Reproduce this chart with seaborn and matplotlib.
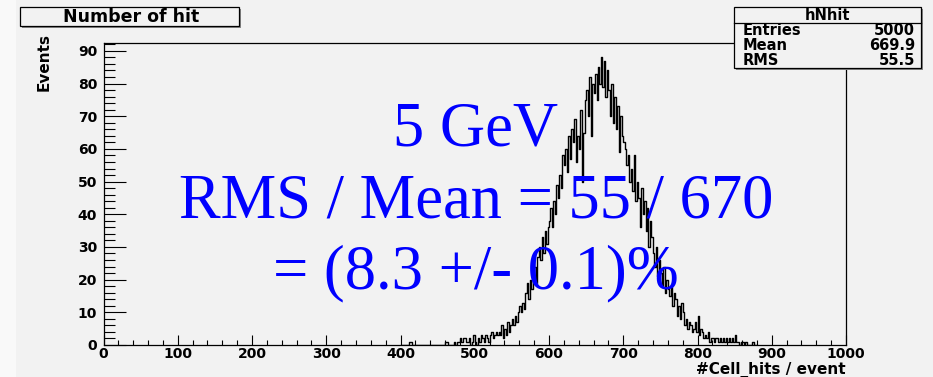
import numpy as np
import pandas as pd
import matplotlib
matplotlib.use("Agg")
import matplotlib.pyplot as plt
from matplotlib.patches import Rectangle
from matplotlib.ticker import MultipleLocator
import seaborn as sns

# ---------------- data ----------------
hist_name = "hNhit"
title_text = "Number of hit"
x_label = "#Cell_hits / event"
y_label = "Events"
bin_start = 400
bin_width = 2
counts = [
    0, 0, 0, 0, 0,        # 400-410
    0, 1, 1, 0, 0,        # 410-420
    0, 0, 0, 0, 0,        # 420-430
    0, 0, 0, 0, 0,        # 430-440
    0, 0, 0, 0, 0,        # 440-450
    0, 0, 0, 0, 0,        # 450-460
    1, 1, 0, 0, 0,        # 460-470
    0, 1, 0, 1, 1,        # 470-480
    2, 1, 2, 2, 1,        # 480-490
    1, 2, 0, 1, 3,        # 490-500
    1, 0, 2, 1, 3,        # 500-510
    2, 1, 3, 2, 1,        # 510-520
    3, 4, 2, 3, 4,        # 520-530
    3, 4, 3, 6, 2,        # 530-540
    5, 3, 7, 4, 6,        # 540-550
    8, 6, 9, 7, 10,       # 550-560
    12, 10, 13, 11, 16,   # 560-570
    19, 14, 20, 17, 22,   # 570-580
    24, 19, 27, 30, 26,   # 580-590
    33, 28, 35, 31, 36,   # 590-600
    38, 42, 36, 44, 40,   # 600-610
    49, 45, 52, 48, 58,   # 610-620
    55, 60, 53, 64, 57,   # 620-630
    66, 62, 69, 56, 64,   # 630-640
    60, 72, 50, 65, 75,   # 640-650
    78, 70, 82, 64, 80,   # 650-660
    77, 83, 75, 85, 80,   # 660-670
    88, 79, 87, 76, 84,   # 670-680
    78, 70, 80, 68, 76,   # 680-690
    66, 73, 59, 70, 64,   # 690-700
    62, 60, 55, 58, 50,   # 700-710
    54, 47, 58, 44, 50,   # 710-720
    45, 36, 48, 40, 44,   # 720-730
    35, 42, 30, 38, 33,   # 730-740
    28, 24, 30, 21, 26,   # 740-750
    22, 18, 24, 16, 20,   # 750-760
    17, 15, 18, 12, 16,   # 760-770
    14, 9, 12, 8, 13,     # 770-780
    10, 6, 8, 5, 7,       # 780-790
    6, 4, 5, 7, 4,        # 790-800
    9, 3, 5, 4, 2,        # 800-810
    3, 2, 4, 1, 2,        # 810-820
    2, 1, 2, 2, 1,        # 820-830
    2, 1, 2, 1, 2,        # 830-840
    1, 2, 1, 2, 1,        # 840-850
    3, 1, 1, 0, 1,        # 850-860
    1, 0, 1, 0, 0,        # 860-870
    0, 0, 1, 0, 0,        # 870-880
]
stat_labels = ["Entries", "Mean", "RMS"]
stat_values = ["5000", "669.9", "55.5"]
note_lines = ["5 GeV", "RMS / Mean = 55 / 670", "= (8.3 +/- 0.1)%"]

# ---------------- figure ----------------
W, H = 933, 377
DPI = 100
BG = "#f2f2f2"
plt.rcParams["font.family"] = ["DejaVu Sans"]
plt.rcParams["font.weight"] = "bold"

fig = plt.figure(figsize=(W / DPI, H / DPI), dpi=DPI, facecolor=BG)


def fx(px):
    return px / W


def fy(py):
    return 1 - py / H


# lighter strip at the far left of the canvas
fig.patches.append(Rectangle((0, 0), fx(16), 1, transform=fig.transFigure,
                             facecolor="#f9f9f9", edgecolor="none", zorder=0))

ax_l, ax_r, ax_t, ax_b = 103.5, 846, 43, 345
ax = fig.add_axes([fx(ax_l), fy(ax_b), fx(ax_r - ax_l), (ax_b - ax_t) / H])
ax.set_facecolor(BG)

n = len(counts)
centers = bin_start + bin_width * (np.arange(n) + 0.5)
df = pd.DataFrame({"x": centers.astype(float), "w": np.asarray(counts, dtype=float)})
sns.histplot(data=df, x="x", weights="w", binwidth=bin_width,
             binrange=(bin_start, bin_start + bin_width * n), element="step",
             fill=False, color="black", linewidth=1.0, ax=ax)

ax.set_xlim(0, 1000)
ax.set_ylim(0, 92.4)
ax.set_xlabel("")
ax.set_ylabel("")
ax.xaxis.set_major_locator(MultipleLocator(100))
ax.xaxis.set_minor_locator(MultipleLocator(20))
ax.yaxis.set_major_locator(MultipleLocator(10))
ax.yaxis.set_minor_locator(MultipleLocator(2))
ax.tick_params(axis="both", which="both", direction="in", color="black",
               width=0.8, labelsize=10)
ax.tick_params(axis="x", which="major", length=7, pad=1.5)
ax.tick_params(axis="x", which="minor", length=3.5)
ax.tick_params(axis="y", which="major", length=16, pad=4.5)
ax.tick_params(axis="y", which="minor", length=8)
for lab in ax.get_xticklabels() + ax.get_yticklabels():
    lab.set_fontweight("bold")
for s in ax.spines.values():
    s.set_linewidth(0.9)
    s.set_color("black")

# axis titles
fig.text(fx(846), fy(374.5), x_label, ha="right", va="baseline",
         fontsize=11, fontweight="bold")
fig.text(fx(44), fy(33), y_label, ha="center", va="top", rotation=90,
         fontsize=11, fontweight="bold")

# title box
fig.patches.append(Rectangle((fx(22), fy(28)), fx(219), (28 - 9) / H,
                             transform=fig.transFigure, facecolor="#888888",
                             edgecolor="none", zorder=5))
fig.patches.append(Rectangle((fx(20), fy(26)), fx(219), (26 - 7) / H,
                             transform=fig.transFigure, facecolor=BG,
                             edgecolor="black", linewidth=0.9, zorder=6))
fig.text(fx(131), fy(16.5), title_text, ha="center", va="center",
         fontsize=12.5, fontweight="bold", zorder=7)

# stats box
bx0, by0, bx1, by1 = 734, 7, 921, 68
fig.patches.append(Rectangle((fx(bx0 + 2), fy(by1 + 2)), fx(bx1 - bx0), (by1 - by0) / H,
                             transform=fig.transFigure, facecolor="#888888",
                             edgecolor="none", zorder=5))
fig.patches.append(Rectangle((fx(bx0), fy(by1)), fx(bx1 - bx0), (by1 - by0) / H,
                             transform=fig.transFigure, facecolor=BG,
                             edgecolor="black", linewidth=0.9, zorder=6))
fig.add_artist(plt.Line2D([fx(bx0), fx(bx1)], [fy(23), fy(23)],
                          transform=fig.transFigure, color="black",
                          linewidth=0.9, zorder=7))
fig.text(fx((bx0 + bx1) / 2), fy(15), hist_name, ha="center", va="center",
         fontsize=10.5, fontweight="bold", zorder=8)
for i, (lab, val) in enumerate(zip(stat_labels, stat_values)):
    yy = 30.5 + i * 15
    fig.text(fx(743), fy(yy), lab, ha="left", va="center",
             fontsize=10.5, fontweight="bold", zorder=8)
    fig.text(fx(915), fy(yy), val, ha="right", va="center",
             fontsize=10.5, fontweight="bold", zorder=8)

# blue annotation
for line, base in zip(note_lines, [145, 217, 288]):
    fig.text(fx(476), fy(base), line, ha="center", va="baseline",
             fontsize=45, color="#0000ff", fontweight="normal",
             family=["Liberation Serif", "DejaVu Serif"], zorder=9)

fig.savefig("out.png", dpi=DPI, facecolor=BG)
